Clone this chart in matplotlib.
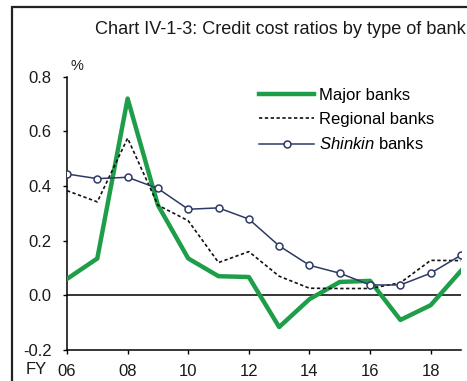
import numpy as np
import matplotlib.pyplot as plt
from matplotlib.patches import Rectangle

plt.rcParams['font.family'] = ['Liberation Sans', 'DejaVu Sans']
plt.rcParams['mathtext.fontset'] = 'custom'
plt.rcParams['mathtext.it'] = 'Liberation Sans:italic'
plt.rcParams['mathtext.rm'] = 'Liberation Sans'

# datos (ejercicio fiscal, %)
anios = [6, 7, 8, 9, 10, 11, 12, 13, 14, 15, 16, 17, 18, 19]
major = [0.06, 0.135, 0.72, 0.33, 0.135, 0.07, 0.067, -0.116, -0.014, 0.049, 0.053, -0.09, -0.036, 0.09]
regional = [0.383, 0.342, 0.575, 0.33, 0.273, 0.12, 0.16, 0.07, 0.026, 0.025, 0.025, 0.046, 0.128, 0.127]
shinkin = [0.444, 0.427, 0.432, 0.391, 0.315, 0.32, 0.279, 0.181, 0.11, 0.081, 0.038, 0.038, 0.081, 0.147]
xticks = [6, 8, 10, 12, 14, 16, 18]
xlabels = ['06', '08', '10', '12', '14', '16', '18']

W, H = 467, 381
fig = plt.figure(figsize=(W / 100, H / 100), dpi=100)
ax = fig.add_axes([67 / W, 1 - 350 / H, (461 - 67) / W, (350 - 76.7) / H])

# marco exterior
fig.patches.append(Rectangle((12 / W, -0.2), 1.2, 1 - 7 / H + 0.2, transform=fig.transFigure,
                             fill=False, edgecolor='#222222', linewidth=1.6, clip_on=False))

fig.text(95 / W, 1 - 30 / H, 'Chart IV-1-3: Credit cost ratios by type of bank',
         fontsize=13.1, color='#1a1a1a', va='center', ha='left')

ax.plot(anios, major, color='#1f9e4a', lw=3.2, label='Major banks', zorder=3)
ax.plot(anios, regional, color='#111111', lw=1.2, ls=(0, (2, 1.5)), label='Regional banks', zorder=3)
ax.plot(anios, shinkin, color='#2e3a66', lw=1.1, marker='o', ms=5, mfc='white', mec='#2e3a66',
        mew=1.1, label=r'$\it{Shinkin}$ banks', zorder=4)
ax.axhline(0, color='black', lw=1.1, zorder=2)

ax.set_xlim(6, 19)
ax.set_ylim(-0.2, 0.8)
ax.set_xticks(xticks)
ax.set_xticklabels(xlabels)
ax.set_yticks([-0.2, 0.0, 0.2, 0.4, 0.6, 0.8])
ax.set_yticklabels(['-0.2', '0.0', '0.2', '0.4', '0.6', '0.8'])
for s in ['top', 'right']:
    ax.spines[s].set_visible(False)
for s in ['left', 'bottom']:
    ax.spines[s].set_linewidth(1.1)
    ax.spines[s].set_color('black')
ax.tick_params(direction='out', length=3, width=1, labelsize=12, colors='black', labelcolor='#1a1a1a')
ax.tick_params(axis='x', pad=7)
ax.tick_params(axis='y', pad=8)
ax.spines['bottom'].set_zorder(5)

fig.text(36 / W, 1 - 369 / H, 'FY', fontsize=12, color='#1a1a1a', ha='center', va='center')
fig.text(77 / W, 1 - 66 / H, '%', fontsize=10.5, color='#1a1a1a', ha='center', va='center')

ax.legend(loc='upper left', bbox_to_anchor=(259 / W, 1 - 88 / H), bbox_transform=fig.transFigure,
          frameon=False, fontsize=12, handlelength=3.3, handletextpad=0.3, labelspacing=0.55,
          borderaxespad=0, borderpad=0)

fig.savefig('out.png', dpi=100)
